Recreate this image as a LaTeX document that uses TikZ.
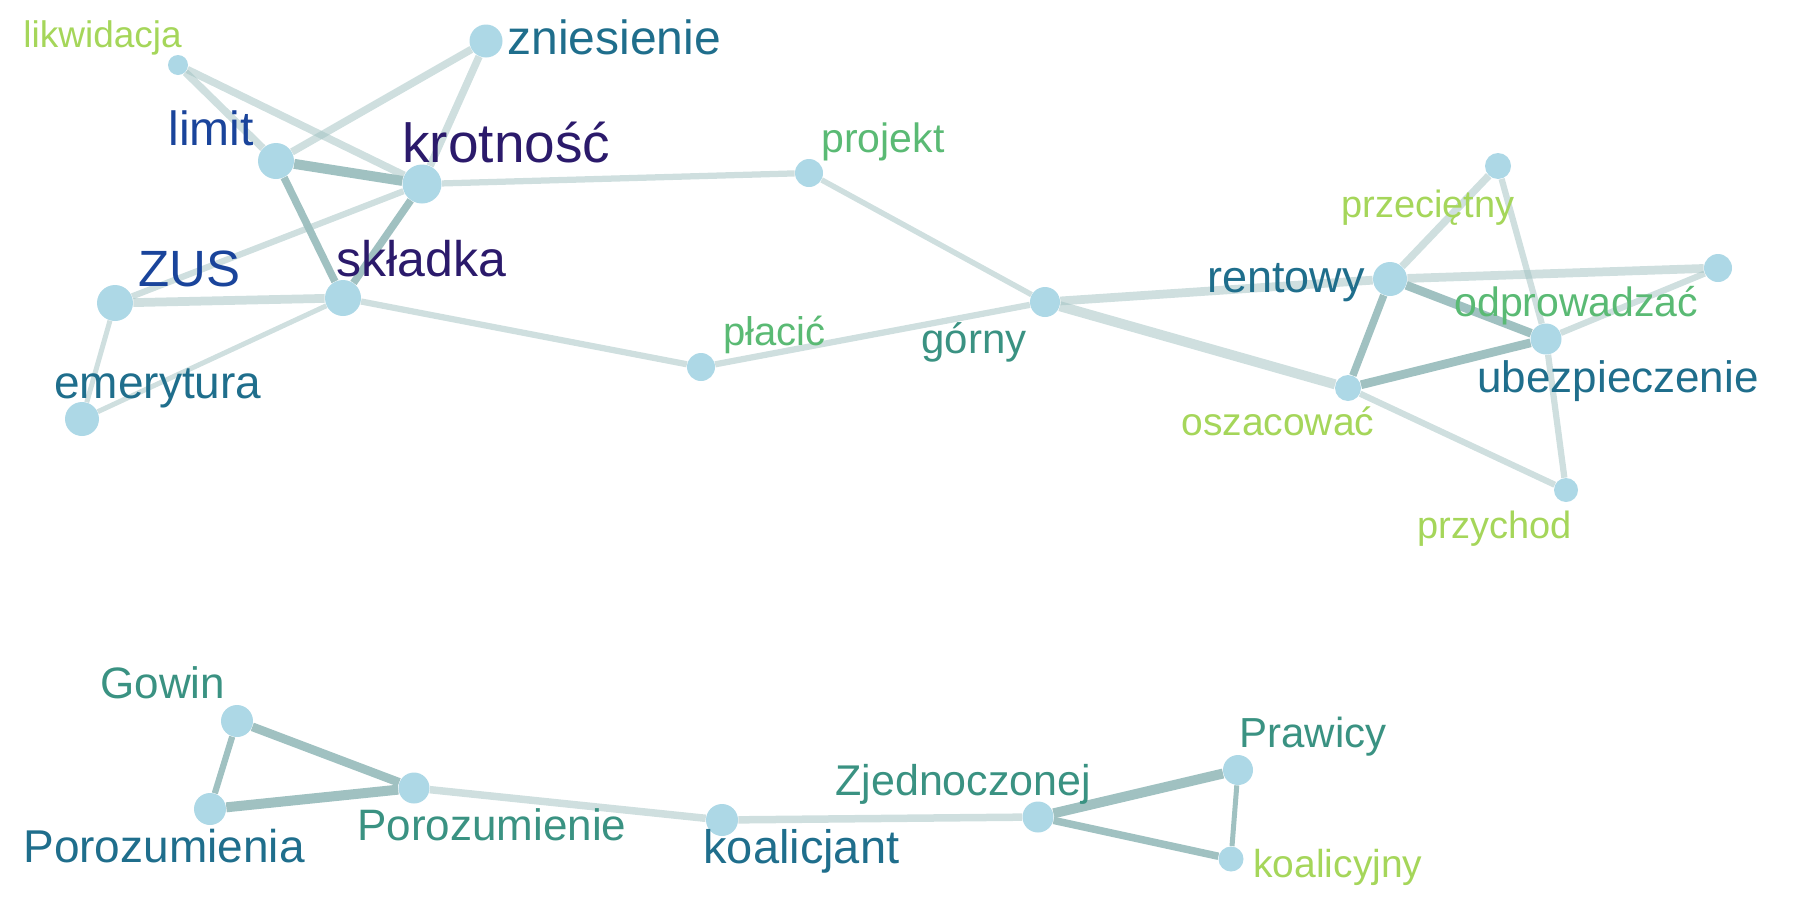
\documentclass[tikz,border=0pt]{standalone}
\usepackage{fontspec}
\setmainfont{Liberation Sans}
\usepackage{tikz}
\usetikzlibrary{backgrounds}

\definecolor{nodeblue}{HTML}{ADD8E6}
\definecolor{edgegray}{HTML}{9FC0C0}
\definecolor{edgedark}{HTML}{A0C1C1}
\definecolor{cpurple}{HTML}{2B1A6B}
\definecolor{cblue}{HTML}{1A449B}
\definecolor{cteal}{HTML}{1F6E8C}
\definecolor{cgreen}{HTML}{3A9282}
\definecolor{cmint}{HTML}{5ABA74}
\definecolor{clime}{HTML}{A5D65A}

\tikzset{
  word/.style={circle, fill=nodeblue, inner sep=0pt, minimum size=#1pt},
  lab/.style 2 args={anchor=base west, inner sep=0pt, text=#2,
    font=\fontsize{#1}{#1}\selectfont},
  weak/.style={draw=edgegray, draw opacity=0.5, line width=1.25*#1pt},
  strong/.style={draw=edgedark, line width=1.25*#1pt}
}

\begin{document}
\begin{tikzpicture}[x=0.5pt, y=-0.5pt]
    \useasboundingbox (0,0) rectangle (1800,900);

    % words, upper cluster
    \node[word=10]   (lik)    at (178, 65)  {};
    \node[word=16.5] (znies)  at (486, 41)  {};
    \node[word=18]   (limit)  at (276, 161) {};
    \node[word=19.5] (krot)   at (422, 184) {};
    \node[word=18]   (zus)    at (115, 303) {};
    \node[word=18]   (skl)    at (343, 298) {};
    \node[word=17]   (emer)   at (82, 419)  {};
    \node[word=14]   (proj)   at (809, 173) {};
    \node[word=15]   (gorny)  at (1045, 302) {};
    \node[word=14]   (placic) at (701, 367) {};
    \node[word=13]   (przec)  at (1498, 166) {};
    \node[word=17]   (rent)   at (1390, 279) {};
    \node[word=14]   (odpr)   at (1718, 268) {};
    \node[word=15.5] (ubez)   at (1546, 339) {};
    \node[word=13]   (oszac)  at (1348, 388) {};
    \node[word=12]   (przych) at (1566, 490) {};

    % words, lower cluster
    \node[word=16]   (gowin)  at (237, 721) {};
    \node[word=16]   (poroza) at (210, 809) {};
    \node[word=15.5] (porozi) at (414, 788) {};
    \node[word=16]   (koalt)  at (722, 820) {};
    \node[word=15.5] (zjedn)  at (1038, 817) {};
    \node[word=15]   (praw)   at (1238, 770) {};
    \node[word=12.5] (koaly)  at (1231, 859) {};

    % edges
    \begin{scope}[on background layer]
      \draw[weak=3] (lik) -- (limit);
      \draw[weak=3] (lik) -- (krot);
      \draw[weak=3] (znies) -- (limit);
      \draw[weak=3] (znies) -- (krot);
      \draw[strong=4] (limit) -- (krot);
      \draw[strong=3] (limit) -- (skl);
      \draw[strong=3] (krot) -- (skl);
      \draw[weak=2.5] (krot) -- (zus);
      \draw[weak=3.5] (zus) -- (skl);
      \draw[weak=2] (zus) -- (emer);
      \draw[weak=2] (skl) -- (emer);
      \draw[weak=2.5] (krot) -- (proj);
      \draw[weak=2.5] (skl) -- (placic);
      \draw[weak=2.2] (proj) -- (gorny);
      \draw[weak=2.5] (placic) -- (gorny);
      \draw[weak=3.5] (gorny) -- (rent);
      \draw[weak=4] (gorny) -- (oszac);
      \draw[weak=3] (rent) -- (przec);
      \draw[weak=3.5] (rent) -- (odpr);
      \draw[strong=3.5] (rent) -- (ubez);
      \draw[strong=3] (rent) -- (oszac);
      \draw[weak=2.5] (przec) -- (ubez);
      \draw[weak=2.5] (odpr) -- (ubez);
      \draw[strong=3.5] (ubez) -- (oszac);
      \draw[weak=2.5] (ubez) -- (przych);
      \draw[weak=2.5] (oszac) -- (przych);

      \draw[strong=2.5] (gowin) -- (poroza);
      \draw[strong=3.5] (gowin) -- (porozi);
      \draw[strong=4] (poroza) -- (porozi);
      \draw[weak=3] (porozi) -- (koalt);
      \draw[weak=3] (koalt) -- (zjedn);
      \draw[strong=4] (zjedn) -- (praw);
      \draw[strong=3] (zjedn) -- (koaly);
      \draw[strong=2] (praw) -- (koaly);
    \end{scope}

    % labels
    \node[lab={18.5}{clime}]  (tlik)    at (23, 47)    {likwidacja};
    \node[lab={24}{cteal}]    (tznies)  at (507, 54)   {zniesienie};
    \node[lab={24}{cblue}]    (tlimit)  at (168, 145)  {limit};
    \node[lab={27.5}{cpurple}] (tkrot)  at (402, 162)  {krotność};
    \node[lab={25.5}{cblue}]  (tzus)    at (138, 286)  {ZUS};
    \node[lab={25}{cpurple}]  (tskl)    at (336, 276)  {składka};
    \node[lab={23}{cteal}]    (temer)   at (54, 398)   {emerytura};
    \node[lab={20.5}{cmint}]  (tproj)   at (821, 152)  {projekt};
    \node[lab={20}{cmint}]    (tplacic) at (723, 345)  {płacić};
    \node[lab={21}{cgreen}]   (tgorny)  at (921, 353)  {górny};
    \node[lab={19}{clime}]    (tprzec)  at (1341, 217) {przeciętny};
    \node[lab={22.5}{cteal}]  (trent)   at (1207, 292) {rentowy};
    \node[lab={20.5}{cmint}]  (todpr)   at (1454, 316) {odprowadzać};
    \node[lab={22}{cteal}]    (tubez)   at (1477, 392) {ubezpieczenie};
    \node[lab={19.5}{clime}]  (toszac)  at (1181, 435) {oszacować};
    \node[lab={19}{clime}]    (tprzych) at (1417, 538) {przychod};

    \node[lab={22}{cgreen}]   (tgowin)  at (100, 698)  {Gowin};
    \node[lab={23}{cteal}]    (tporoza) at (23, 862)   {Porozumienia};
    \node[lab={22}{cgreen}]   (tporozi) at (357, 840)  {Porozumienie};
    \node[lab={23.5}{cteal}]  (tkoalt)  at (703, 863)  {koalicjant};
    \node[lab={21.5}{cgreen}] (tzjedn)  at (835, 795)  {Zjednoczonej};
    \node[lab={21}{cgreen}]   (tpraw)   at (1239, 747) {Prawicy};
    \node[lab={19.5}{clime}]  (tkoaly)  at (1253, 877) {koalicyjny};
\end{tikzpicture}
\end{document}
